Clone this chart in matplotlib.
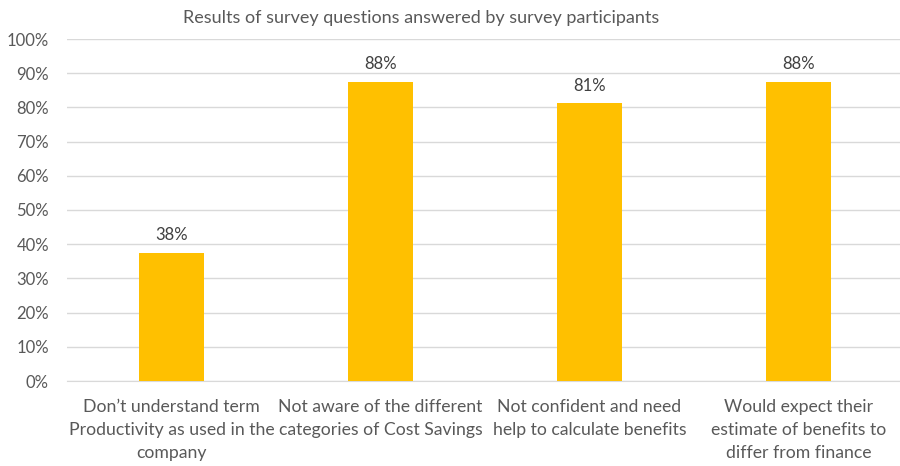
import matplotlib.pyplot as plt
from matplotlib.ticker import PercentFormatter

plt.rcParams['font.family'] = ['Lato', 'DejaVu Sans']

categories = [
    "Don\u2019t understand term\nProductivity as used in the\ncompany",
    "Not aware of the different\ncategories of Cost Savings",
    "Not confident and need\nhelp to calculate benefits",
    "Would expect their\nestimate of benefits to\ndiffer from finance",
]
values = [37.5, 87.5, 81.25, 87.5]
value_labels = ["38%", "88%", "81%", "88%"]
yticks = list(range(0, 101, 10))

text_col = '#595959'
bar_col = '#FFC000'

fig = plt.figure(figsize=(9, 4.66), dpi=100)
ax = fig.add_axes([67 / 900, 85 / 466, 836 / 900, 342 / 466])

x = range(len(categories))
bars = ax.bar(x, values, width=0.31, color=bar_col, zorder=3)
for b, lab in zip(bars, value_labels):
    ax.text(b.get_x() + b.get_width() / 2, b.get_height() + 2.8, lab,
            ha='center', va='bottom', fontsize=12, color='#404040')

ax.set_xlim(-0.5, 3.5)
ax.set_ylim(0, 100)
ax.set_yticks(yticks)
ax.yaxis.set_major_formatter(PercentFormatter(decimals=0))
ax.set_xticks(list(x))
ax.set_xticklabels(categories, fontsize=12.7, color=text_col, linespacing=1.52)
ax.tick_params(axis='y', labelsize=12, labelcolor=text_col, length=0, pad=13)
ax.tick_params(axis='x', length=0, pad=13)
ax.grid(axis='y', color='#d9d9d9', linewidth=1, zorder=0)
for s in ['left', 'right', 'top']:
    ax.spines[s].set_visible(False)
ax.spines['bottom'].set_color('#d9d9d9')

fig.text(0.468, 0.961, "Results of survey questions answered by survey participants",
         ha='center', va='center', fontsize=13, color=text_col)

fig.savefig('out.png', dpi=100)
